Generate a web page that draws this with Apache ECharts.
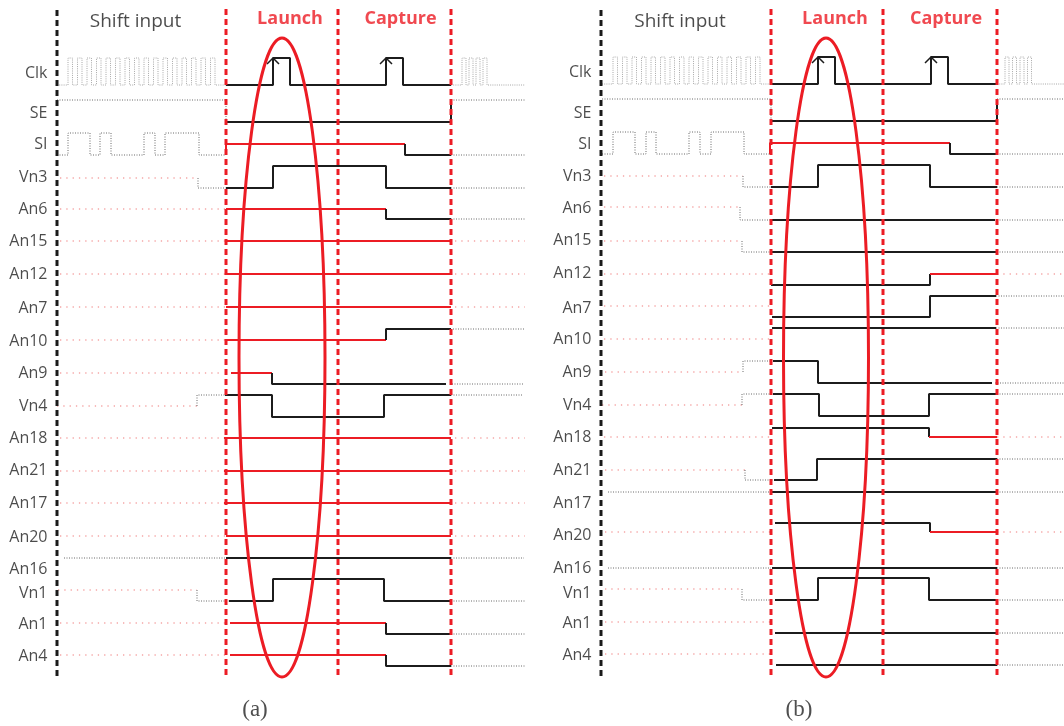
<!DOCTYPE html>
<html><head><meta charset="utf-8">
<script src="https://cdn.jsdelivr.net/npm/echarts@6/dist/echarts.min.js"></script>
<style>html,body{margin:0;background:#fff}#c{width:1064px;height:726px}</style>
</head><body><div id="c"></div>
<script>
// ---------- DATA ----------
// signal names (rows)
const signalNames = ['Clk','SE','SI','Vn3','An6','An15','An12','An7','An10','An9','Vn4','An18','An21','An17','An20','An16','Vn1','An1','An4'];
// vertical position of each row label (diagram units)
const labelYA = [73,113,144,177,209,241,274,308,341,373,406,438,470,503,537,569,593,624,656];
const labelYB = [72,113,144,176,208,240,273,308,339,372,405,437,470,503,535,568,593,623,655];

// phase boundaries (time units): shift end / launch end / capture end
const phaseA = [0, 169, 281, 394];
const phaseB = [0, 170, 282, 396];

// shift clock edges
const clkShiftRiseA = [11,20.5,30,39.5,49,58.5,68,77.5,87,96.5,106,115.5,125,134.5,144,153.5];
const clkShiftFallA = [15.5,25,34.5,44,53.5,63,72.5,82,91.5,101,110.5,120,129.5,139,148.5,158];
const clkTailRiseA = [405,412,419,426];
const clkTailFallA = [409,416,423,430];
const clkShiftRiseB = [12,21.5,31,40.5,50,59.5,69,78.5,88,97.5,107,116.5,126,135.5,145,154.5];
const clkShiftFallB = [16.5,26,35.5,45,54.5,64,73.5,83,92.5,102,111.5,121,130.5,140,149.5,159];
const clkTailRiseB = [404,411.5,419,426.5];
const clkTailFallB = [408,415.5,423,430.5];

// waveform pieces: [state, points]  state: g = shift (black net), p = shift (red net), k = test value, r = test value (unchanged)
// ---- panel (a) ----
const a_SE  = [['g',[[0,100],[169,100],[169,122]]],['k',[[169,122],[394,122],[394,100]]],['g',[[394,100],[468,100]]]];
const a_SI  = [['g',[[0,155],[11,155],[11,133],[33,133],[33,155],[43,155],[43,133],[54,133],[54,155],[87,155],[87,133],[98,133],[98,155],[108,155],[108,133],[142,133],[142,155],[169,155]]],
               ['r',[[169,155],[169,144],[348,144]]],['k',[[348,144],[348,155],[394,155]]],['g',[[394,155],[468,155]]]];
const a_Vn3 = [['p',[[3,178],[141,178]]],['g',[[141,178],[141,188],[169,188]]],['k',[[169,188],[216,188],[216,166],[329,166],[329,188],[394,188]]],['g',[[394,188],[468,188]]]];
const a_An6 = [['p',[[3,209],[169,209]]],['r',[[169,209],[329,209]]],['k',[[329,209],[329,219],[394,219]]],['g',[[394,219],[468,219]]]];
const a_An15= [['p',[[3,241],[169,241]]],['r',[[169,241],[394,241]]],['p',[[398,241],[468,241]]]];
const a_An12= [['p',[[3,274],[169,274]]],['r',[[169,274],[394,274]]],['p',[[398,274],[468,274]]]];
const a_An7 = [['p',[[3,307],[169,307]]],['r',[[169,307],[394,307]]],['p',[[398,307],[468,307]]]];
const a_An10= [['p',[[3,340],[169,340]]],['r',[[169,340],[329,340]]],['k',[[329,340],[329,329],[394,329]]],['g',[[396,329],[468,329]]]];
const a_An9 = [['p',[[3,373],[165,373]]],['r',[[174,373],[215,373]]],['k',[[215,373],[215,384],[389,384]]],['g',[[395,384],[467,384]]]];
const a_Vn4 = [['p',[[0,406],[140,406]]],['g',[[140,406],[140,395],[169,395]]],['k',[[168,395],[215,395],[215,417],[327,417],[327,395],[394,395]]],['g',[[394,395],[466,395]]]];
const a_An18= [['p',[[3,438],[167,438]]],['r',[[167,438],[394,438]]],['p',[[398,438],[468,438]]]];
const a_An21= [['p',[[3,471],[167,471]]],['r',[[167,471],[394,471]]],['p',[[398,471],[468,471]]]];
const a_An17= [['p',[[3,503],[167,503]]],['r',[[167,503],[394,503]]],['p',[[398,503],[468,503]]]];
const a_An20= [['p',[[3,536],[169,536]]],['r',[[169,536],[394,536]]],['p',[[398,536],[468,536]]]];
const a_An16= [['g',[[7,558],[169,558]]],['k',[[169,558],[394,558]]],['g',[[394,558],[467,558]]]];
const a_Vn1 = [['p',[[1,590],[140,590]]],['g',[[140,590],[140,601],[172,601]]],['k',[[172,601],[216,601],[216,579],[327,579],[327,601],[394,601]]],['g',[[394,601],[468,601]]]];
const a_An1 = [['p',[[3,623],[173,623]]],['r',[[173,623],[329,623]]],['k',[[329,623],[329,634],[394,634]]],['g',[[394,634],[468,634]]]];
const a_An4 = [['p',[[3,655],[173,655]]],['r',[[173,655],[329,655]]],['k',[[329,655],[329,666],[394,666]]],['g',[[394,666],[468,666]]]];
const a_ClkTest = [[169,85],[216,85],[216,58],[233,58],[233,85],[329,85],[329,58],[346,58],[346,85],[394,85]];
const a_ClkLevels = [85,58];
const a_arrows = [[[210,64],[216,58],[222,64]],[[323,64],[329,58],[335,64]]];

// ---- panel (b) ----
const b_SE  = [['g',[[1,99],[170,99],[170,121]]],['k',[[170,121],[396,121],[396,99]]],['g',[[396,99],[463,99]]]];
const b_SI  = [['g',[[1,154],[12,154],[12,132],[34,132],[34,154],[45,154],[45,132],[55,132],[55,154],[88,154],[88,132],[99,132],[99,154],[110,154],[110,132],[143,132],[143,154],[169,154]]],
               ['r',[[169,154],[169,143],[349,143]]],['k',[[349,143],[349,154],[396,154]]],['g',[[396,154],[463,154]]]];
const b_Vn3 = [['p',[[3,176],[142,176]]],['g',[[142,176],[142,187],[170,187]]],['k',[[170,187],[217,187],[217,165],[329,165],[329,187],[396,187]]],['g',[[396,187],[463,187]]]];
const b_An6 = [['p',[[3,207],[139,207]]],['g',[[139,207],[139,220],[170,220]]],['k',[[170,220],[394,220]]],['g',[[396,220],[463,220]]]];
const b_An15= [['p',[[3,241],[141,241]]],['g',[[141,241],[141,252],[170,252]]],['k',[[170,252],[396,252]]],['g',[[396,252],[463,252]]]];
const b_An12= [['p',[[3,274],[170,274]]],['k',[[170,285],[329,285],[329,274]]],['r',[[329,274],[396,274]]],['p',[[396,274],[463,274]]]];
const b_An7 = [['p',[[3,306],[170,306]]],['k',[[171,317],[329,317],[329,296],[395,296]]],['g',[[395,296],[463,296]]]];
const b_An10= [['p',[[3,339],[170,339]]],['k',[[171,328],[395,328]]],['g',[[395,328],[463,328]]]];
const b_An9 = [['p',[[4,372],[142,372]]],['g',[[142,372],[142,361],[170,361]]],['k',[[172,361],[217,361],[217,383],[391,383]]],['g',[[394,383],[463,383]]]];
const b_Vn4 = [['p',[[1,405],[141,405]]],['g',[[141,405],[141,394],[171,394]]],['k',[[172,394],[218,394],[218,416],[328,416],[328,394],[396,394]]],['g',[[396,394],[463,394]]]];
const b_An18= [['p',[[3,437],[169,437]]],['k',[[171,428],[328,428],[328,437]]],['r',[[328,437],[396,437]]],['p',[[396,437],[463,437]]]];
const b_An21= [['p',[[4,470],[144,470]]],['g',[[144,470],[144,480],[172,480]]],['k',[[173,480],[216,480],[216,459],[396,459]]],['g',[[396,459],[463,459]]]];
const b_An17= [['g',[[7,492],[171,492]]],['k',[[171,492],[396,492]]],['g',[[396,492],[463,492]]]];
const b_An20= [['p',[[4,532],[170,532]]],['k',[[174,523],[329,523],[329,532]]],['r',[[329,532],[396,532]]],['p',[[396,532],[463,532]]]];
const b_An16= [['g',[[7,568],[170,568]]],['k',[[171,568],[396,568]]],['g',[[396,568],[463,568]]]];
const b_Vn1 = [['p',[[4,589],[141,589]]],['g',[[141,589],[141,600],[170,600]]],['k',[[174,600],[217,600],[217,578],[328,578],[328,600],[396,600]]],['g',[[396,600],[463,600]]]];
const b_An1 = [['p',[[4,622],[170,622]]],['k',[[174,633],[396,633]]],['g',[[396,633],[463,633]]]];
const b_An4 = [['p',[[4,654],[170,654]]],['k',[[175,665],[396,665]]],['g',[[396,665],[463,665]]]];
const b_ClkTest = [[170,84],[217,84],[217,57],[234,57],[234,84],[330,84],[330,57],[347,57],[347,84],[396,84]];
const b_ClkLevels = [84,57];
const b_arrows = [[[211,63],[217,57],[223,63]],[[324,63],[330,57],[336,63]]];

// launch window ellipse: [centre t, centre y, half-width, half-height]
const ellipseA = [225, 357.5, 43, 319.5];
const ellipseB = [225, 357.5, 42.5, 319.5];

// annotations
const phaseTitles = ['Shift input','Launch','Capture'];
const panelCaptions = ['(a)','(b)'];

// ---------- BUILD ----------
function clockPts(x0, x1, rises, falls, lv) {
  const pts = [[x0, lv[0]]];
  for (let i = 0; i < rises.length; i++) {
    pts.push([rises[i], lv[0]], [rises[i], lv[1]], [falls[i], lv[1]], [falls[i], lv[0]]);
  }
  pts.push([x1, lv[0]]);
  return pts;
}
const a_Clk = [['c', clockPts(0, phaseA[1], clkShiftRiseA, clkShiftFallA, a_ClkLevels)], ['k', a_ClkTest],
               ['c', clockPts(phaseA[3], 468, clkTailRiseA, clkTailFallA, a_ClkLevels)]];
const b_Clk = [['c', clockPts(1, phaseB[1], clkShiftRiseB, clkShiftFallB, b_ClkLevels)], ['k', b_ClkTest],
               ['c', clockPts(phaseB[3], 463, clkTailRiseB, clkTailFallB, b_ClkLevels)]];

const wavesA = [a_Clk,a_SE,a_SI,a_Vn3,a_An6,a_An15,a_An12,a_An7,a_An10,a_An9,a_Vn4,a_An18,a_An21,a_An17,a_An20,a_An16,a_Vn1,a_An1,a_An4];
const wavesB = [b_Clk,b_SE,b_SI,b_Vn3,b_An6,b_An15,b_An12,b_An7,b_An10,b_An9,b_Vn4,b_An18,b_An21,b_An17,b_An20,b_An16,b_Vn1,b_An1,b_An4];

const RED = '#ec1c24';
const styles = {
  k: {color:'#1c1c1c', width:2, type:'solid'},
  r: {color:RED, width:2, type:'solid'},
  g: {color:'#6a6a6a', width:1, type:[1,1.5]},
  c: {color:'#a8a8a8', width:1, type:[1,1.2]},
  p: {color:'#f07a7a', width:1.2, type:[1.3,5]}
};

const series = [];
function addPanel(gi, waves, labelY, phase, arrows, ell) {
  phase.forEach((t, i) => {
    series.push({type:'line', xAxisIndex:gi, yAxisIndex:gi, data:[[t, i===0?10:9],[t, i===0?680:678]],
      symbol:'none', silent:true, clip:false, z:4,
      lineStyle:{color: i===0?'#1a1a1a':RED, width:3, type:[6,4]}});
  });
  waves.forEach(sig => sig.forEach(([st, pts]) => {
    series.push({type:'line', xAxisIndex:gi, yAxisIndex:gi, data:pts, symbol:'none', silent:true, clip:false,
      z: (st==='k'||st==='r') ? 3 : 2, lineStyle: styles[st]});
  }));
  arrows.forEach(pts => series.push({type:'line', xAxisIndex:gi, yAxisIndex:gi, data:pts, symbol:'none', silent:true, clip:false, z:3,
      lineStyle:{color:'#1c1c1c', width:1.5}}));
  series.push({type:'scatter', xAxisIndex:gi, yAxisIndex:gi, symbolSize:1, silent:true, clip:false,
    itemStyle:{color:'rgba(0,0,0,0)'},
    data: signalNames.map((n,i)=>({name:n, value:[-9, labelY[i]]})),
    label:{show:true, position:'left', distance:0, formatter:'{b}', color:'#1e1e1e', fontFamily:'Open Sans', fontSize:16}});
  series.push({type:'scatter', xAxisIndex:gi, yAxisIndex:gi, symbolSize:1, silent:true, clip:false,
    itemStyle:{color:'rgba(0,0,0,0)'},
    data: [
      {name:phaseTitles[0], value:[(phase[0]+phase[1])/2 - 6, 22], label:{color:'#1e1e1e', fontWeight:'normal', fontSize:19}},
      {name:phaseTitles[1], value:[(phase[1]+phase[2])/2 + 8, 19]},
      {name:phaseTitles[2], value:[(phase[2]+phase[3])/2 + 6, 19]}
    ],
    label:{show:true, position:'inside', formatter:'{b}', color:RED, fontWeight:'bold', fontFamily:'Open Sans', fontSize:18}});
  series.push({type:'scatter', xAxisIndex:gi, yAxisIndex:gi, symbolSize:1, silent:true, clip:false,
    itemStyle:{color:'rgba(0,0,0,0)'},
    data:[{name:panelCaptions[gi], value:[198, 710]}],
    label:{show:true, position:'inside', formatter:'{b}', color:'#222', fontFamily:'Liberation Serif', fontSize:23}});
  series.push({type:'custom', xAxisIndex:gi, yAxisIndex:gi, silent:true, clip:false, z:5,
    data:[ell],
    renderItem:(params, api) => {
      const c = api.coord([api.value(0), api.value(1)]);
      const e = api.coord([api.value(0)+api.value(2), api.value(1)+api.value(3)]);
      return {type:'ellipse', shape:{cx:c[0], cy:c[1], rx:Math.abs(e[0]-c[0]), ry:Math.abs(e[1]-c[1])},
        style:{fill:null, stroke:RED, lineWidth:3}};
    }});
}
addPanel(0, wavesA, labelYA, phaseA, a_arrows, ellipseA);
addPanel(1, wavesB, labelYB, phaseB, b_arrows, ellipseB);

const chart = echarts.init(document.getElementById('c'), null, {renderer:'canvas'});
chart.setOption({
  animation:false,
  backgroundColor:'#fff',
  grid:[{left:0, top:0, width:527, height:726}, {left:527, top:0, width:537, height:726}],
  xAxis:[{type:'value', gridIndex:0, min:-57, max:470, show:false},
         {type:'value', gridIndex:1, min:-74, max:463, show:false}],
  yAxis:[{type:'value', gridIndex:0, min:0, max:726, inverse:true, show:false},
         {type:'value', gridIndex:1, min:0, max:726, inverse:true, show:false}],
  series: series
});
</script></body></html>
